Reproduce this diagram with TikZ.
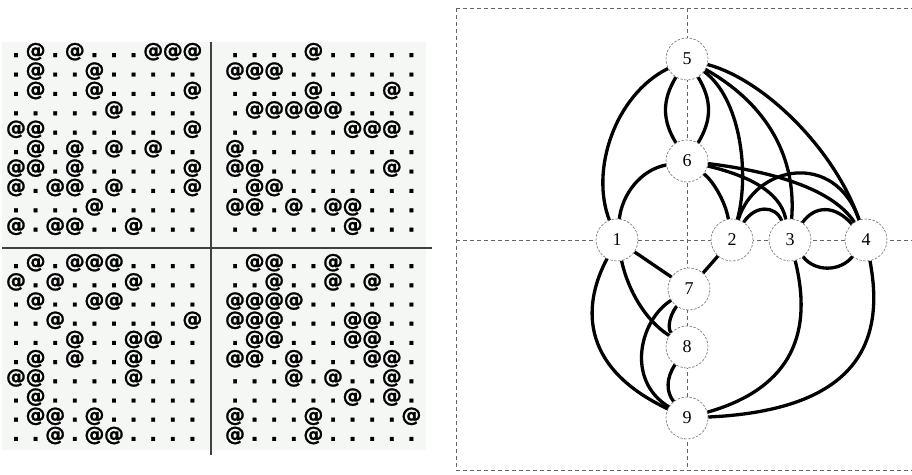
\documentclass[tikz,border=0pt]{standalone}
\usepackage{fontspec}
\setmainfont{Liberation Serif}
\newfontfamily\gridfont[BoldFeatures={FakeBold=1.2}]{DejaVu Sans}
\definecolor{gridbg}{RGB}{244,247,244}
\tikzset{
  gchar/.style={anchor=base, inner sep=0pt, font=\gridfont\bfseries\fontsize{20}{20}\selectfont},
  vnode/.style={circle, minimum size=42pt, inner sep=0pt, draw=black!55, dash pattern=on 2.5pt off 1.5pt, line width=0.6pt, fill=white, font=\fontsize{18}{18}\selectfont},
  link/.style={line width=3.3pt, black},
  dframe/.style={draw=black!60, line width=0.8pt, dash pattern=on 4pt off 3pt},
  gridline/.style={draw=black!75, line width=1.4pt},
}
\newcommand\gquad[5]{%
  \foreach \rowdata [count=\r] in {#5} {
    \foreach \v [count=\k] in \rowdata {
      \node[gchar] (#4-\r-\k) at ({#1+19.6*(\k-1)}, {#2+#3*(\r-1)+6}) {\ifnum\v=1 @\else .\fi};
    }
  }%
}
\begin{document}
\begin{tikzpicture}[x=1pt, y=-1pt]
\useasboundingbox (0,0) rectangle (912,474);
\fill[white] (0,0) rectangle (912,474);
% ---------- left: character grid ----------
\fill[gridbg] (2,42) rectangle (426,450);
\gquad{16}{51}{19.4}{tl}{
 {0,1,0,1,0,0,0,1,1,1},
 {0,1,0,0,1,0,0,0,0,0},
 {0,1,0,0,1,0,0,0,0,1},
 {0,0,0,0,0,1,0,0,0,0},
 {1,1,0,0,0,0,0,0,0,1},
 {0,1,0,1,0,1,0,1,0,0},
 {1,1,0,1,0,0,0,0,0,1},
 {1,0,1,1,0,1,0,0,0,1},
 {0,0,0,0,1,0,0,0,0,0},
 {1,0,1,1,0,0,1,0,0,0}}
\gquad{235}{51}{19.4}{tr}{
 {0,0,0,0,1,0,0,0,0,0},
 {1,1,1,0,0,0,0,0,0,0},
 {0,0,0,0,1,0,0,0,1,0},
 {0,1,1,1,1,1,0,0,0,0},
 {0,0,0,0,0,0,1,1,1,0},
 {1,0,0,0,0,0,0,0,0,0},
 {1,1,0,0,0,0,0,0,1,0},
 {0,1,1,0,0,0,0,0,0,0},
 {1,1,0,1,0,1,1,0,0,0},
 {0,0,0,0,0,0,1,0,0,0}}
\gquad{16}{262}{19.2}{bl}{
 {0,1,0,1,1,1,0,0,0,0},
 {1,0,1,0,0,0,1,0,0,0},
 {0,1,0,0,1,1,0,0,0,0},
 {0,0,1,0,0,0,0,0,0,1},
 {0,0,0,1,0,0,1,1,0,0},
 {0,1,0,1,0,0,1,0,0,0},
 {1,1,0,0,0,0,1,0,0,0},
 {0,1,0,0,0,0,0,0,0,0},
 {0,1,1,0,1,0,0,0,0,0},
 {0,0,1,0,1,1,0,0,0,0}}
\gquad{235}{262}{19.2}{br}{
 {0,1,1,0,0,1,0,0,0,0},
 {0,0,1,0,0,1,0,1,0,0},
 {1,1,1,1,0,0,0,0,0,0},
 {1,1,1,0,0,0,1,1,0,0},
 {0,1,1,0,0,0,1,1,0,0},
 {1,1,0,1,0,0,0,1,1,0},
 {0,0,0,1,0,1,0,0,1,0},
 {0,0,0,0,0,0,1,0,1,0},
 {1,0,0,0,1,0,0,0,0,1},
 {1,0,0,0,1,0,0,0,0,0}}
\draw[gridline] (211,42) -- (211,455);
\draw[gridline] (2,248) -- (432,248);
% ---------- right: graph ----------
\draw[dframe] (456,8) -- (912,8);
\draw[dframe] (456,8) -- (456,470);
\draw[dframe] (456,470) -- (912,470);
\draw[dframe] (687,8) -- (687,470);
\draw[dframe] (456,240) -- (912,240);
\node[vnode] (n5) at (687,59) {5};
\node[vnode] (n6) at (687,161) {6};
\node[vnode] (n1) at (617,240) {1};
\node[vnode] (n2) at (732,240) {2};
\node[vnode] (n3) at (790,240) {3};
\node[vnode] (n4) at (866,240) {4};
\node[vnode] (n7) at (689,289) {7};
\node[vnode] (n8) at (687,347) {8};
\node[vnode] (n9) at (687,418) {9};
\draw[link] (n5) .. controls (615,95) and (590,170) .. (n1);
\draw[link] (n5) .. controls (662,100) and (662,120) .. (n6);
\draw[link] (n5) .. controls (712,100) and (712,120) .. (n6);
\draw[link] (n5) .. controls (740,98) and (750,172) .. (n2);
\draw[link] (n5) .. controls (760,100) and (797,150) .. (n3);
\draw[link] (n5) .. controls (765,80) and (835,150) .. (n4);
\draw[link] (n6) .. controls (640,170) and (622,195) .. (n1);
\draw[link] (n6) .. controls (712,180) and (725,200) .. (n2);
\draw[link] (n6) .. controls (745,175) and (780,190) .. (n3);
\draw[link] (n6) .. controls (760,170) and (830,185) .. (n4);
\draw[link] (n2) .. controls (755,205) and (775,205) .. (n3);
\draw[link] (n2) .. controls (755,165) and (835,150) .. (n4);
\draw[link] (n3) .. controls (815,205) and (835,205) .. (n4);
\draw[link] (n3) .. controls (815,272) and (840,272) .. (n4);
\draw[link] (n1) -- (n7);
\draw[link] (n2) -- (n7);
\draw[link] (n1) .. controls (628,290) and (645,320) .. (n8);
\draw[link] (n1) .. controls (585,300) and (575,365) .. (n9);
\draw[link] (n7) .. controls (640,320) and (625,380) .. (n9);
\draw[link] (n7) .. controls (668,318) and (668,330) .. (n8);
\draw[link] (n8) .. controls (666,378) and (666,392) .. (n9);
\draw[link] (n3) .. controls (815,340) and (785,390) .. (n9);
\draw[link] (n4) .. controls (885,340) and (860,410) .. (n9);
\end{tikzpicture}
\end{document}
